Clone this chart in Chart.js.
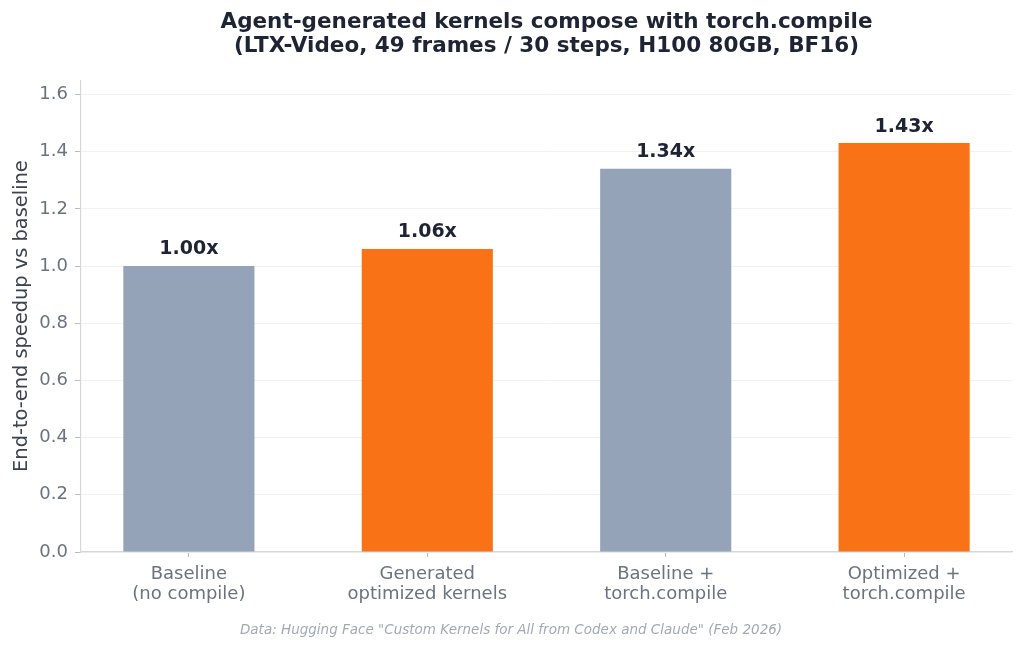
<!DOCTYPE html>
<html lang="en">
<head>
    <meta charset="UTF-8">
    <title>Agent-generated kernels compose with torch.compile</title>
    <script src="https://cdn.jsdelivr.net/npm/chart.js"></script>
    <style>
        html, body { margin: 0; padding: 0; background: #fff; }
        #wrap { width: 1024px; height: 651px; }
    </style>
</head>
<body>
    <div id="wrap"><canvas id="speedChart" width="1024" height="651"></canvas></div>

    <script>
        // data
        const categories = [
            ['Baseline', '(no compile)'],
            ['Generated', 'optimized kernels'],
            ['Baseline +', 'torch.compile'],
            ['Optimized +', 'torch.compile']
        ];
        const speedups = [1.00, 1.06, 1.34, 1.43];
        const barColors = ['#94a3b8', '#f97316', '#94a3b8', '#f97316'];
        const yTicks = [0, 0.2, 0.4, 0.6, 0.8, 1.0, 1.2, 1.4, 1.6];

        const FONT = '"DejaVu Sans", sans-serif';

        // labels like "1.34x" on top of each bar
        const valueLabels = {
            id: 'valueLabels',
            afterDatasetsDraw(chart) {
                const c = chart.ctx;
                const meta = chart.getDatasetMeta(0);
                c.save();
                c.font = 'bold 19px ' + FONT;
                c.fillStyle = '#1e2433';
                c.textAlign = 'center';
                c.textBaseline = 'bottom';
                meta.data.forEach((bar, i) => {
                    c.fillText(speedups[i].toFixed(2) + 'x', bar.x, bar.y - 7);
                });
                c.restore();
            }
        };

        const ctx = document.getElementById('speedChart').getContext('2d');
        const speedChart = new Chart(ctx, {
            type: 'bar',
            data: {
                datasets: [{
                    data: speedups.map((v, i) => ({ x: i, y: v })),
                    backgroundColor: barColors,
                    borderWidth: 0,
                    barPercentage: 0.55,
                    categoryPercentage: 1.0
                }]
            },
            options: {
                responsive: false,
                animation: false,
                layout: { padding: { left: 10, right: 12, top: 0, bottom: 0 } },
                plugins: {
                    legend: { display: false },
                    tooltip: { enabled: false },
                    title: {
                        display: true,
                        fullSize: false,
                        text: ['Agent-generated kernels compose with torch.compile',
                               '(LTX-Video, 49 frames / 30 steps, H100 80GB, BF16)'],
                        color: '#1e2433',
                        font: { family: FONT, size: 21.5, weight: 'bold', lineHeight: 1.12 },
                        padding: { top: 10, bottom: 22 }
                    },
                    subtitle: {
                        display: true,
                        position: 'bottom',
                        text: 'Data: Hugging Face "Custom Kernels for All from Codex and Claude" (Feb 2026)',
                        color: '#a3a9b4',
                        font: { family: FONT, size: 13.5, style: 'italic', lineHeight: 1.2 },
                        padding: { top: 0, bottom: 12 }
                    }
                },
                scales: {
                    x: {
                        type: 'linear',
                        offset: false,
                        min: -0.4525,
                        max: 3.4525,
                        afterBuildTicks: scale => {
                            scale.ticks = categories.map((_, i) => ({ value: i }));
                        },
                        afterFit: scale => { scale.height = 70.8; },
                        grid: {
                            offset: false,
                            drawOnChartArea: false,
                            drawTicks: true,
                            tickLength: 5,
                            tickColor: '#b8bcc4'
                        },
                        border: { color: '#d4d7dc', width: 1.2 },
                        ticks: {
                            autoSkip: false,
                            maxRotation: 0,
                            padding: 7,
                            color: '#6b7280',
                            font: { family: FONT, size: 18, lineHeight: 1.11 },
                            callback: v => categories[v]
                        }
                    },
                    y: {
                        min: 0,
                        max: 1.65,
                        afterBuildTicks: scale => {
                            scale.ticks = yTicks.map(v => ({ value: v }));
                        },
                        afterFit: scale => { scale.width = 71; },
                        grid: {
                            color: '#f0f1f3',
                            lineWidth: 1,
                            tickLength: 6,
                            tickColor: '#b8bcc4'
                        },
                        border: { color: '#d4d7dc', width: 1.2 },
                        ticks: {
                            padding: 7,
                            color: '#6b7280',
                            font: { family: FONT, size: 18 },
                            callback: v => v.toFixed(1)
                        },
                        title: {
                            display: true,
                            text: 'End-to-end speedup vs baseline',
                            color: '#3b4250',
                            font: { family: FONT, size: 19.4 },
                            padding: { top: 0, bottom: 4 }
                        }
                    }
                }
            },
            plugins: [valueLabels]
        });
    </script>
</body>
</html>
